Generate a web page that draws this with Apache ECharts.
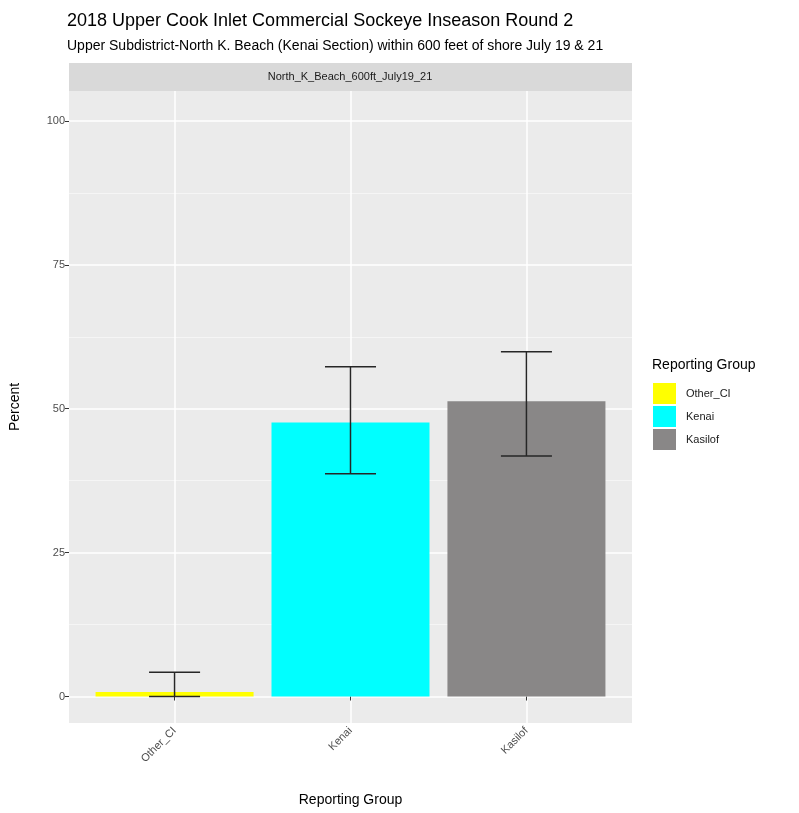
<!DOCTYPE html>
<html>
<head>
<meta charset="utf-8">
<script src="https://cdn.jsdelivr.net/npm/echarts@6/dist/echarts.min.js"></script>
<style>
  html, body { margin: 0; background: #fff; }
  #chart { width: 799px; height: 813px; }
</style>
</head>
<body>
<div id="chart"></div>
<script>
  // data
  const groups = ['Other_CI', 'Kenai', 'Kasilof'];
  const percent = [0.8, 47.6, 51.3];
  const lower = [0, 38.7, 41.8];
  const upper = [4.2, 57.3, 59.9];
  const colors = ['#FFFF00', '#00FFFF', '#898787'];
  const xPos = [1, 2, 3];
  const yTicks = [0, 25, 50, 75, 100];
  const yMinor = [12.5, 37.5, 62.5, 87.5];

  const font = 'Liberation Sans, Arial, sans-serif';
  const chart = echarts.init(document.getElementById('chart'));

  const bars = groups.map((g, i) => ({
    name: g,
    type: 'bar',
    barWidth: 158,
    barGap: '-100%',
    itemStyle: {color: colors[i]},
    data: [[xPos[i], percent[i]]],
    z: 2
  }));

  chart.setOption({
    animation: false,
    textStyle: {fontFamily: font},
    title: {
      text: '2018 Upper Cook Inlet Commercial Sockeye Inseason Round 2',
      subtext: 'Upper Subdistrict-North K. Beach (Kenai Section) within 600 feet of shore July 19 & 21',
      left: 62, top: 7, itemGap: 9,
      textStyle: {fontSize: 18, fontWeight: 'normal', color: '#000', fontFamily: font},
      subtextStyle: {fontSize: 14, color: '#000', fontFamily: font}
    },
    legend: {
      orient: 'vertical',
      left: 653, top: 383,
      itemWidth: 23, itemHeight: 21, itemGap: 2,
      padding: 0,
      icon: 'rect',
      data: groups,
      textStyle: {fontSize: 11, color: '#1a1a1a', fontFamily: font, padding: [0, 0, 0, 5]}
    },
    graphic: [
      {type: 'rect', shape: {x: 69, y: 63, width: 563, height: 28}, style: {fill: '#d9d9d9'}, silent: true},
      {type: 'text', x: 350, y: 77, style: {text: 'North_K_Beach_600ft_July19_21', fontSize: 11, fill: '#1a1a1a', align: 'center', verticalAlign: 'middle', fontFamily: font}},
      {type: 'text', x: 652, y: 365, style: {text: 'Reporting Group', fontSize: 14, fill: '#000', verticalAlign: 'middle', fontFamily: font}}
    ],
    grid: {
      left: 69, top: 91, width: 563, height: 632,
      outerBoundsMode: 'none',
      show: true, backgroundColor: '#EBEBEB', borderWidth: 0
    },
    xAxis: {
      type: 'value',
      min: 0.4, max: 3.6,
      name: 'Reporting Group',
      nameLocation: 'middle', nameGap: 70,
      nameTextStyle: {fontSize: 14, color: '#000'},
      axisLine: {show: false},
      axisTick: {show: true, customValues: xPos, length: 4, lineStyle: {color: '#333'}},
      axisLabel: {
        customValues: xPos, rotate: 45, fontSize: 11, color: '#4d4d4d', margin: 6,
        formatter: v => groups[Math.round(v) - 1]
      },
      splitLine: {show: true, lineStyle: {color: '#fff', width: 1.5}}
    },
    yAxis: [
      {
        type: 'value',
        min: -4.6, max: 105.2,
        name: 'Percent',
        nameLocation: 'middle', nameGap: 47, nameRotate: 90,
        nameTextStyle: {fontSize: 14, color: '#000'},
        axisLine: {show: false},
        axisTick: {show: true, customValues: yTicks, length: 4, lineStyle: {color: '#333'}},
        axisLabel: {customValues: yTicks, fontSize: 11, color: '#4d4d4d', margin: 4},
        splitLine: {show: true, lineStyle: {color: '#fff', width: 1.5}}
      },
      {
        type: 'value',
        min: -4.6, max: 105.2,
        position: 'left',
        axisLine: {show: false},
        axisTick: {show: false, customValues: yMinor},
        axisLabel: {show: false, customValues: yMinor},
        splitLine: {show: true, lineStyle: {color: '#f7f7f7', width: 0.8}}
      }
    ],
    series: [
      ...bars,
      {
        type: 'custom',
        name: 'errorbar',
        z: 5,
        encode: {x: 0, y: [1, 2]},
        data: groups.map((g, i) => [xPos[i], lower[i], upper[i]]),
        renderItem: (params, api) => {
          const x = api.value(0);
          const lo = api.coord([x, api.value(1)]);
          const hi = api.coord([x, api.value(2)]);
          const half = api.size([0.29, 0])[0] / 2;
          const style = {stroke: '#262626', lineWidth: 1.5};
          return {
            type: 'group',
            children: [
              {type: 'line', shape: {x1: lo[0], y1: hi[1], x2: lo[0], y2: lo[1]}, style},
              {type: 'line', shape: {x1: lo[0] - half, y1: hi[1], x2: lo[0] + half, y2: hi[1]}, style},
              {type: 'line', shape: {x1: lo[0] - half, y1: lo[1], x2: lo[0] + half, y2: lo[1]}, style}
            ]
          };
        }
      }
    ]
  });
</script>
</body>
</html>
